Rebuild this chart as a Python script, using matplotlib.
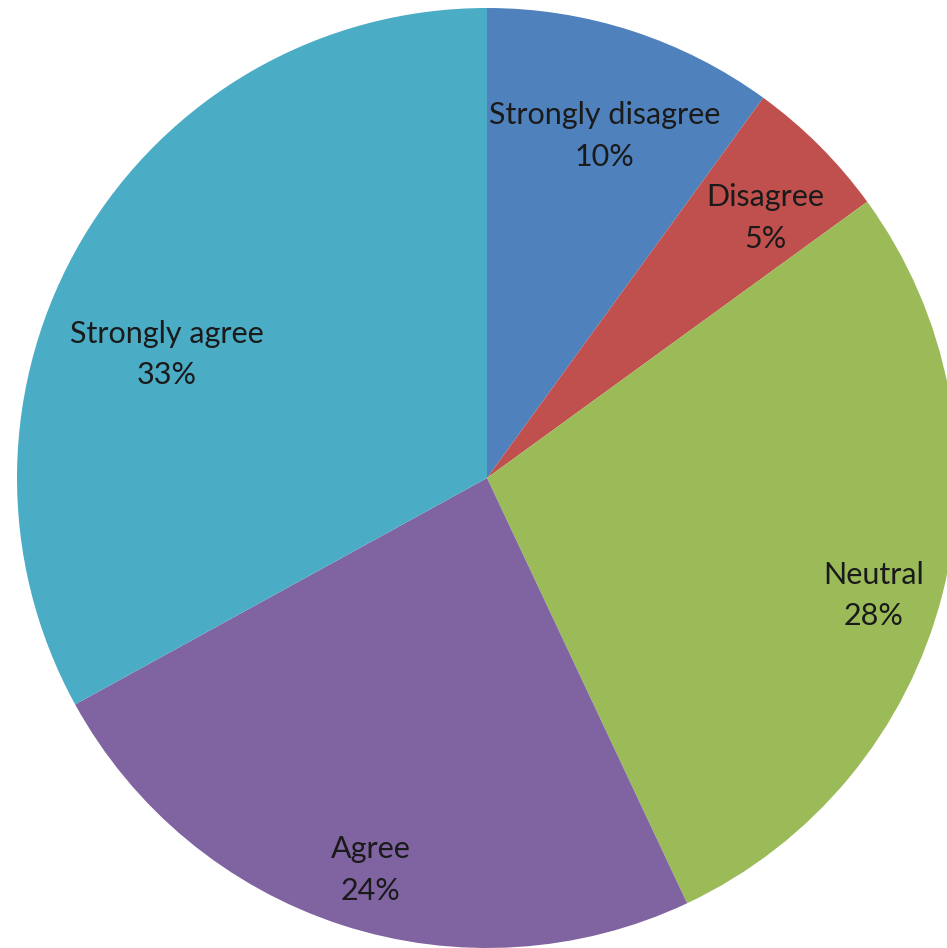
import numpy as np
import matplotlib
matplotlib.use("Agg")
import matplotlib.pyplot as plt

categories = ["Strongly disagree", "Disagree", "Neutral", "Agree", "Strongly agree"]
shares = [10, 5, 28, 24, 33]
colors = ["#4F81BD", "#C0504D", "#9BBB59", "#8064A2", "#4BACC6"]

# label placement: fraction of radius and angular nudge (degrees, clockwise)
label_radius = [0.77, 0.81, 0.86, 0.87, 0.73]
label_nudge = [1.0, 2.0, 2.5, -1.5, -9.5]

W, H = 947, 948
fig = plt.figure(figsize=(W / 100, H / 100), dpi=100)
ax = fig.add_axes([0, 0, 1, 1])

cx, cy, R = 487, H - 478, 470
wedges, _ = ax.pie(shares, colors=colors, startangle=90, counterclock=False,
                   center=(cx, cy), radius=R, frame=True,
                   wedgeprops=dict(linewidth=0))
ax.set_xlim(0, W)
ax.set_ylim(0, H)
ax.set_aspect("equal")
ax.axis("off")

total = sum(shares)
for w, name, val, rf, nudge in zip(wedges, categories, shares, label_radius, label_nudge):
    mid = 0.5 * (w.theta1 + w.theta2) - nudge
    a = np.deg2rad(mid)
    x = cx + rf * R * np.cos(a)
    y = cy + rf * R * np.sin(a)
    ax.text(x, y, f"{name}\n{round(100 * val / total)}%", ha="center", va="center",
            fontsize=22, family="Lato", color="#1a1a1a", linespacing=1.6)

fig.savefig("out.png", dpi=100)
